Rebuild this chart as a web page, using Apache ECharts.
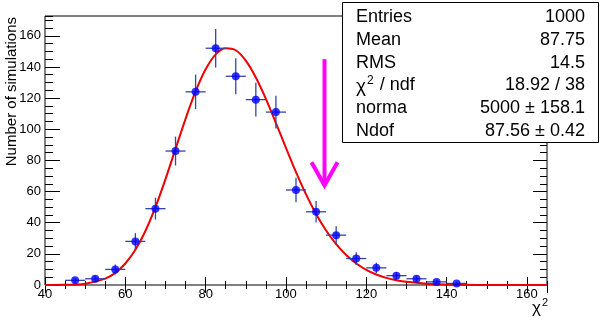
<!DOCTYPE html>
<html><head><meta charset="utf-8">
<script src="https://cdn.jsdelivr.net/npm/echarts@6/dist/echarts.min.js"></script>
<style>html,body{margin:0;padding:0;background:#fff}#c{width:600px;height:320px}</style>
</head><body><div id="c"></div>
<script>
// ---- data ----
const binCenters = [47.5, 52.5, 57.5, 62.5, 67.5, 72.5, 77.5, 82.5, 87.5, 92.5, 97.5, 102.5, 107.5, 112.5, 117.5, 122.5, 127.5, 132.5, 137.5, 142.5];
const counts     = [3, 4, 10, 28, 49, 86, 124, 152, 134, 119, 111, 61, 47, 32, 17, 11, 6, 4, 2, 1];
const countErrs  = [1.7, 2.0, 3.2, 5.3, 7.0, 9.3, 11.1, 12.3, 11.6, 10.9, 10.5, 7.8, 6.9, 5.7, 4.1, 3.3, 2.4, 2.0, 1.4, 1.0];
const binWidth = 5;
const fitX = [40, 45, 50, 55, 57.5, 60, 62.5, 65, 67.5, 70, 72.5, 75, 77.5, 80, 82.5, 85, 87.5, 90, 92.5, 95, 97.5, 100, 102.5, 105, 107.5, 110, 112.5, 115, 117.5, 120, 122.5, 125, 127.5, 130, 135, 140, 145, 150, 155, 160, 165];
const fitY = [0.01, 0.11, 0.84, 4.06, 7.8, 13.8, 22.6, 34.7, 50.0, 68.0, 87.4, 106.7, 124.3, 138.5, 148.1, 152.0, 150.7, 144.0, 133.2, 119.5, 104.0, 88.0, 72.5, 58.2, 45.6, 35.0, 26.2, 19.2, 13.8, 9.75, 6.75, 4.59, 3.07, 2.02, 0.83, 0.32, 0.12, 0.04, 0.01, 0.0, 0.0];
const statNames  = ['Entries', 'Mean', 'RMS', 'χ² / ndf', 'norma', 'Ndof'];
const statValues = ['1000', '87.75', '14.5', '18.92 / 38', '5000 ± 158.1', '87.56 ± 0.42'];
const arrowX = 109.6, arrowTop = 145, arrowTip = 64;
const xMin = 40, xMax = 165, xMajor = 20, xMinor = 5;
const yMin = 0, yMax = 172.7, yMajor = 20, yMinor = 5;
const xTitle = 'χ²';
const yTitle = 'Number of simulations';

// ---- chart ----
const FONT = 'Liberation Sans';
function sup(s) { return s.replace('χ²', '{c|χ}{s|2}'); }
function ax(kind, pos, len, interval, labels) {
  return {
    type: 'value', position: pos,
    min: kind === 'x' ? xMin : yMin, max: kind === 'x' ? xMax : yMax,
    interval: interval,
    axisLine: { show: false }, splitLine: { show: false },
    axisTick: { show: true, inside: true, length: len, lineStyle: { color: '#000', width: 1 } },
    axisLabel: labels ? { show: true, margin: kind === 'x' ? 3 : 4, fontSize: 13, color: '#000', fontFamily: FONT, showMaxLabel: false } : { show: false },
    silent: true
  };
}
const chart = echarts.init(document.getElementById('c'), null, { renderer: 'canvas' });
const pts = binCenters.map((x, i) => [x, counts[i], countErrs[i]]);
const fit = fitX.map((x, i) => [x, fitY[i]]);
const option = {
  animation: false,
  backgroundColor: '#fff',
  grid: { left: 45, right: 53, top: 16, bottom: 35, show: true, borderColor: '#000', borderWidth: 1, backgroundColor: 'transparent', outerBoundsMode: 'none', containLabel: false },
  xAxis: [
    ax('x', 'bottom', 8, xMajor, true),
    ax('x', 'bottom', 4, xMinor, false),
    ax('x', 'top', 8, xMajor, false),
    ax('x', 'top', 4, xMinor, false)
  ],
  yAxis: [
    ax('y', 'left', 15, yMajor, true),
    ax('y', 'left', 8, yMinor, false),
    ax('y', 'right', 14, yMajor, false),
    ax('y', 'right', 7, yMinor, false)
  ],
  series: [
    {
      type: 'line', data: fit, showSymbol: false, smooth: 0.35, z: 2,
      lineStyle: { color: '#ee0000', width: 2 }, silent: true
    },
    {
      type: 'custom', data: pts, z: 3, silent: true,
      renderItem: function (params, api) {
        const x = api.value(0), y = api.value(1), e = api.value(2);
        const l = api.coord([x - binWidth / 2, y]), r = api.coord([x + binWidth / 2, y]);
        const t = api.coord([x, y + e]), b = api.coord([x, y - e]);
        const st = { stroke: '#3344aa', lineWidth: 1.3 };
        return { type: 'group', children: [
          { type: 'line', shape: { x1: l[0], y1: l[1], x2: r[0], y2: r[1] }, style: st },
          { type: 'line', shape: { x1: t[0], y1: t[1], x2: b[0], y2: b[1] }, style: st }
        ] };
      }
    },
    {
      type: 'scatter', data: pts.map(p => [p[0], p[1]]), symbol: 'circle', symbolSize: 8, z: 4,
      itemStyle: { color: '#0000ff' }, silent: true
    },
    {
      type: 'custom', data: [[arrowX, arrowTop, arrowTip]], z: 5, silent: true,
      renderItem: function (params, api) {
        const top = api.coord([api.value(0), api.value(1)]);
        const tip = api.coord([api.value(0), api.value(2)]);
        const st = { stroke: '#ff00ff', lineWidth: 4, fill: null };
        return { type: 'group', children: [
          { type: 'line', shape: { x1: top[0], y1: top[1], x2: tip[0], y2: tip[1] - 2 }, style: st },
          { type: 'polyline', shape: { points: [[tip[0] - 13, tip[1] - 23], [tip[0], tip[1]], [tip[0] + 13, tip[1] - 23]] }, style: st }
        ] };
      }
    }
  ],
  graphic: { elements: [
    { type: 'text', x: 12, y: 17, rotation: Math.PI / 2, z: 100,
      style: { text: yTitle, fontSize: 15, fontFamily: FONT, fill: '#000', align: 'right', verticalAlign: 'middle' } },
    { type: 'text', x: 548, y: 317, z: 100,
      style: { text: sup(xTitle), fontFamily: FONT, fill: '#000', align: 'right', verticalAlign: 'bottom',
        rich: { c: { fontSize: 17, fontFamily: FONT, lineHeight: 20, verticalAlign: 'bottom' }, s: { fontSize: 11, fontFamily: FONT, lineHeight: 20, verticalAlign: 'top', padding: [0, 0, 0, 1] } } } },
    { type: 'rect', z: 100, shape: { x: 342.5, y: 2.5, width: 256, height: 140 },
      style: { fill: '#fff', stroke: '#000', lineWidth: 1 } }
  ].concat(statNames.map((n, i) => ({
      type: 'text', x: 356, y: 17 + i * 22.8, z: 101,
      style: { text: sup(n), fontSize: 18, fontFamily: FONT, fill: '#000', align: 'left', verticalAlign: 'middle',
        rich: { c: { fontSize: 19, fontFamily: FONT, lineHeight: 22, verticalAlign: 'bottom' }, s: { fontSize: 12, fontFamily: FONT, lineHeight: 22, verticalAlign: 'top', padding: [0, 1, 0, 1] } } }
    }))).concat(statValues.map((v, i) => ({
      type: 'text', x: 585, y: 17 + i * 22.8, z: 101,
      style: { text: v, fontSize: 18, fontFamily: FONT, fill: '#000', align: 'right', verticalAlign: 'middle' }
    })))
  }
};
chart.setOption(option);
</script></body></html>
